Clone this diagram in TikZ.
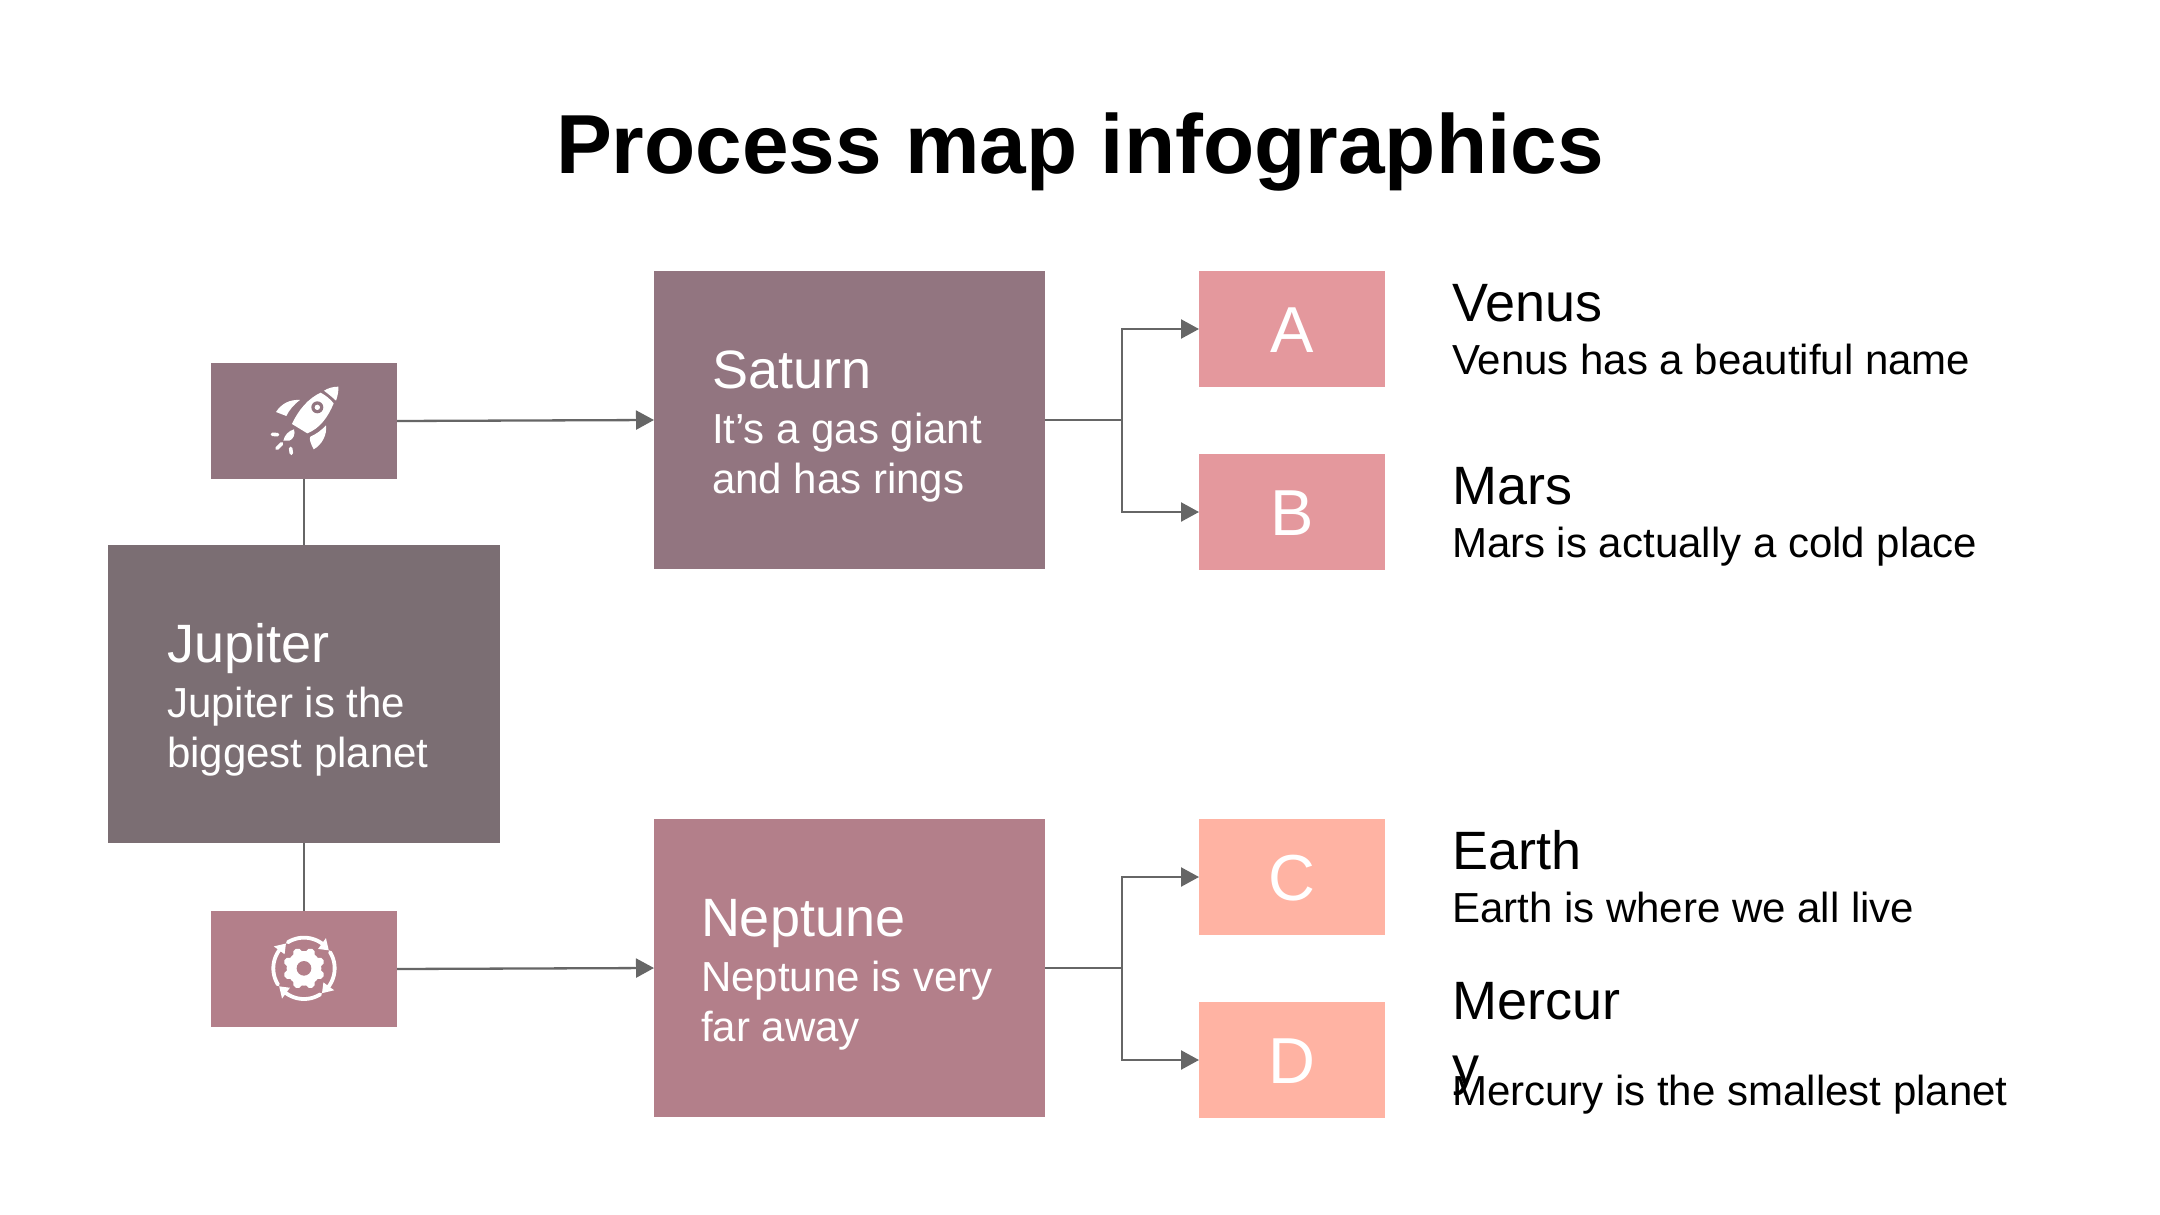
\documentclass[tikz,border=0pt]{standalone}
\usepackage{fontspec}
\setmainfont{Liberation Sans}
\usetikzlibrary{arrows.meta}
\definecolor{cJup}{HTML}{7B6E73}
\definecolor{cSat}{HTML}{927580}
\definecolor{cNep}{HTML}{B37F8A}
\definecolor{cAB}{HTML}{E4989D}
\definecolor{cCD}{HTML}{FFB3A3}
\definecolor{cLine}{HTML}{666666}
\tikzset{
  box/.style={rectangle,inner sep=0pt,outer sep=0pt,text=white},
  big/.style={box,minimum width=392pt,minimum height=298pt},
  icon/.style={box,minimum width=186pt,minimum height=116pt},
  letter/.style={box,minimum width=186pt,minimum height=116pt,font=\fontsize{65}{78}\selectfont,text height=47.5pt,text depth=0pt},
  lbl/.style={anchor=base west,inner sep=0pt,outer sep=0pt},
  head/.style={lbl,font=\fontsize{54}{64}\selectfont},
  desc/.style={lbl,font=\fontsize{42}{50}\selectfont},
  link/.style={draw=cLine,line width=2.3pt},
  flow/.style={link,-{Triangle[length=18pt,width=19pt]}},
}
\begin{document}
\begin{tikzpicture}[x=1pt,y=-1pt]
\useasboundingbox[fill=white] (0,0) rectangle (2160,1215);
\node[anchor=base,inner sep=0pt,font=\fontsize{83.8}{100}\selectfont\bfseries] (title) at (1080,173) {Process map infographics};

\node[big,fill=cJup] (jup) at (304,694) {};
\node[icon,fill=cSat] (rocket) at (304,421) {};
\node[icon,fill=cNep] (gear) at (304,969) {};
\node[big,fill=cSat,minimum width=391pt] (sat) at (849.5,420) {};
\node[big,fill=cNep,minimum width=391pt] (nep) at (849.5,968) {};
\node[letter,fill=cAB] (a) at (1292,329) {A};
\node[letter,fill=cAB] (b) at (1292,512) {B};
\node[letter,fill=cCD] (c) at (1292,877) {C};
\node[letter,fill=cCD] (d) at (1292,1060) {D};

\node[head,text=white] (t1) at (167,662) {Jupiter};
\node[desc,text=white] (t2) at (167,717) {Jupiter is the};
\node[desc,text=white] (t3) at (167,767) {biggest planet};
\node[head,text=white] (t4) at (712,388) {Saturn};
\node[desc,text=white] (t5) at (712,443) {It’s a gas giant};
\node[desc,text=white] (t6) at (712,493) {and has rings};
\node[head,text=white] (t7) at (701,936) {Neptune};
\node[desc,text=white] (t8) at (701,991) {Neptune is very};
\node[desc,text=white] (t9) at (701,1041) {far away};

\node[head] (h1) at (1452,321) {Venus};
\node[desc] (d1) at (1452,374) {Venus has a beautiful name};
\node[head] (h2) at (1452,504) {Mars};
\node[desc] (d2) at (1452,557) {Mars is actually a cold place};
\node[head] (h3) at (1452,869) {Earth};
\node[desc] (d3) at (1452,922) {Earth is where we all live};
\node[head] (h4) at (1452,1019) {Mercur};
\node[head] (h4b) at (1452,1084) {y};
\node[desc] (d4) at (1452,1105) {Mercury is the smallest planet};

\coordinate (sj) at (1122,420);
\coordinate (nj) at (1122,968);
\draw[link] (rocket.south) -- (jup.north);
\draw[link] (jup.south) -- (gear.north);
\draw[flow] (rocket.east) -- (sat.west);
\draw[flow] (gear.east) -- (nep.west);
\draw[link] (sat.east) -- (sj);
\draw[link] (nep.east) -- (nj);
\draw[flow] (sj) |- (a.west);
\draw[flow] (sj) |- (b.west);
\draw[flow] (nj) |- (c.west);
\draw[flow] (nj) |- (d.west);

% rocket icon
\begin{scope}[shift={(200,350)},x=0.3333pt,y=-0.3333pt]
\fill[white] (415,110) .. controls (400,110) and (385,114) .. (372,122) .. controls (382,130) and (398,142) .. (408,152) .. controls (413,138) and (416,124) .. (415,110) -- cycle;
\fill[white] (362,128) .. controls (325,145) and (295,180) .. (276,222) -- (322,250) .. controls (360,235) and (385,200) .. (401,160) .. controls (390,146) and (375,135) .. (362,128) -- cycle;
\fill[cSat] (352,172) circle (18);
\fill[white] (352,172) circle (8);
\fill[white] (228,186) .. controls (245,160) and (270,148) .. (300,150) .. controls (280,165) and (268,180) .. (259,198) -- cycle;
\fill[white] (378,226) .. controls (382,255) and (365,285) .. (341,298) .. controls (332,280) and (327,268) .. (331,260) .. controls (350,252) and (365,240) .. (378,226) -- cycle;
\fill[white] (250,272) .. controls (254,255) and (265,243) .. (282,238) .. controls (287,252) and (280,268) .. (268,272) -- cycle;
\draw[white,line width=3.6pt,line cap=round] (217,253) -- (233,254) (231,295) -- (245,281) (272,295) -- (274,310);
\end{scope}

% gear icon
\begin{scope}[shift={(200,900)},x=0.3333pt,y=-0.3333pt]
\fill[white] (312,205) circle (52);
\foreach \t in {0,45,...,315}
  \draw[white,line width=9pt,line cap=round] ({312+40*cos(\t+22.5)},{205+40*sin(\t+22.5)}) -- ({312+50*cos(\t+22.5)},{205+50*sin(\t+22.5)});
\fill[cNep] (312,205) circle (22);
\foreach \r in {0,90,180,270} {
  \draw[white,line width=3.8pt,line cap=round] plot[domain=-122+\r:-52+\r,samples=20] ({312+92*cos(\x)},{205+92*sin(\x)});
  \fill[white] ({312+72*cos(-54+\r)},{205+72*sin(-54+\r)}) -- ({312+112*cos(-54+\r)},{205+112*sin(-54+\r)}) -- ({312+92*cos(-36+\r)},{205+92*sin(-36+\r)}) -- cycle;
}
\end{scope}
\end{tikzpicture}
\end{document}
